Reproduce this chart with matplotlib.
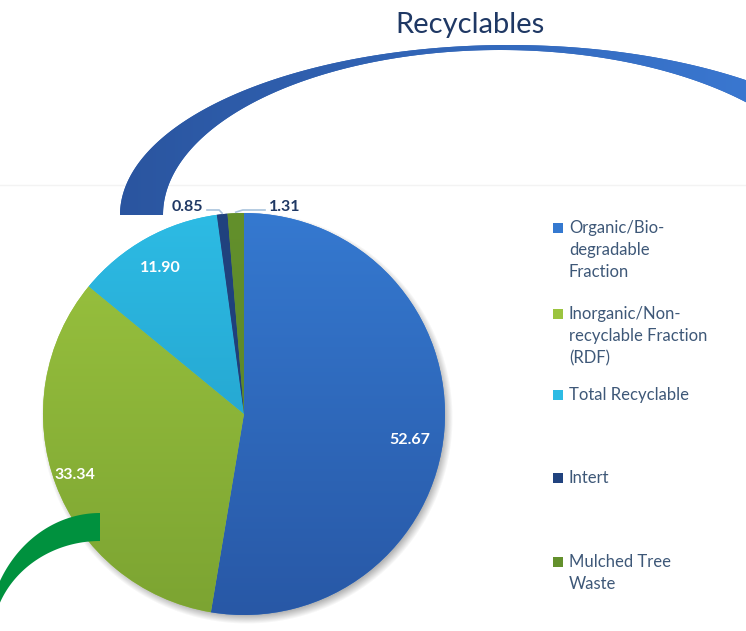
import numpy as np
import matplotlib.pyplot as plt
from matplotlib.colors import LinearSegmentedColormap
from matplotlib.patches import Polygon, Rectangle

# Waste composition (%)
labels = ["Organic/Bio-\ndegradable\nFraction",
          "Inorganic/Non-\nrecyclable Fraction\n(RDF)",
          "Total Recyclable",
          "Intert",
          "Mulched Tree\nWaste"]
values = [52.67, 33.34, 11.90, 0.85, 1.31]
top_colors = ["#3579D0", "#9BC43F", "#2DBBE4", "#21437F", "#63902C"]
bottom_colors = ["#2858A6", "#7CA432", "#1F97C2", "#1C3A72", "#55802A"]
legend_y = [228, 314, 395, 478, 562]

W, H = 746, 631
fig = plt.figure(figsize=(7.46, 6.31), dpi=100)
ax = fig.add_axes([0, 0, 1, 1])


def Y(y):
    # image-style y (from the top) -> axes y
    return H - y


font = "Lato"
navy = "#1F3864"

# faint rule across the slide
ax.plot([0, W], [Y(185), Y(185)], color="#F3F3F3", lw=1, zorder=0)

# pie
cx, cy, R = 244, Y(414), 201
wedges, _ = ax.pie(values, startangle=90, counterclock=False, center=(cx, cy),
                   radius=R, colors=top_colors, wedgeprops=dict(linewidth=0))
grad = np.linspace(0, 1, 256)[:, None]
for w, c0, c1 in zip(wedges, top_colors, bottom_colors):
    cmap = LinearSegmentedColormap.from_list("g", [c0, c1])
    im = ax.imshow(grad, extent=(cx - R, cx + R, cy - R, cy + R), cmap=cmap,
                   aspect="auto", zorder=2, interpolation="bilinear")
    im.set_clip_path(w)

# soft shadow under the pie
yy, xx = np.mgrid[0:H, 0:W] + 0.5
d = np.hypot(xx - (cx + 3), yy - (cy - 4))
shadow = np.zeros((H, W, 4))
shadow[..., :3] = 0.35
shadow[..., 3] = 0.45 * np.clip((R + 5 - d) / 9, 0, 1)
ax.imshow(shadow, extent=(0, W, 0, H), origin="lower", zorder=0.5, aspect="auto")

# value labels inside
inside = {0: (410, 440), 1: (75, 475), 2: (160, 268)}
for i, (x, y) in inside.items():
    ax.text(x, Y(y), f"{values[i]:.2f}", color="white", fontsize=11.5,
            fontweight="bold", family=font, ha="center", va="center", zorder=4)

# small slices: labels outside with leader lines
for i, (tx, side) in {3: (187, -1), 4: (285, 1)}.items():
    w = wedges[i]
    a = np.deg2rad((w.theta1 + w.theta2) / 2)
    px, py = cx + R * np.cos(a), cy + R * np.sin(a)
    ax.text(tx, Y(207), f"{values[i]:.2f}", color=navy, fontsize=11.5,
            fontweight="bold", family=font, ha="center", va="center", zorder=4)
    x0 = tx - side * 20
    x1 = px + side * 7 if side > 0 else px - 3
    ax.plot([x0, x1, px], [Y(210), Y(210), py + 1], color="#A8C2DC",
            lw=1.2, zorder=4, solid_joinstyle="round")

# big "Recyclables" arc
t = np.linspace(0, np.pi, 400)
outer = np.column_stack([509 - 389 * np.cos(t), Y(215 - 170 * np.sin(t))])
inner = np.column_stack([500 - 337 * np.cos(t), Y(215 - 165 * np.sin(t))])
arc = Polygon(np.vstack([outer, inner[::-1]]), closed=True, fc="#2F62B5",
              ec="none", zorder=1)
ax.add_patch(arc)
hgrad = np.linspace(0, 1, 256)[None, :]
im = ax.imshow(hgrad, extent=(100, W, Y(220), Y(40)),
               cmap=LinearSegmentedColormap.from_list("a", ["#2A549E", "#3A77D0"]),
               aspect="auto", zorder=1.5, interpolation="bilinear")
im.set_clip_path(arc)
ax.text(470, Y(25), "Recyclables", color=navy, fontsize=21, family=font,
        ha="center", va="center")

# green arc bottom left
s = np.linspace(0, np.pi / 2, 200)
g_out = np.column_stack([100 - 113 * np.sin(s), Y(640 - 127 * np.cos(s))])
g_in = np.column_stack([100 - 108 * np.sin(s), Y(640 - 99 * np.cos(s))])
ax.add_patch(Polygon(np.vstack([g_out, g_in[::-1]]), closed=True,
                     fc="#00913E", ec="none", zorder=3))

# legend
for lab, y, c in zip(labels, legend_y, top_colors):
    ax.add_patch(Rectangle((553, Y(y) - 5), 10, 10, fc=c, ec="none", zorder=3))
    for k, line in enumerate(lab.split("\n")):
        ax.text(569, Y(y + 22 * k), line, color="#3E5878", fontsize=12,
                family=font, ha="left", va="center")

ax.set_xlim(0, W)
ax.set_ylim(0, H)
ax.set_aspect("auto")
ax.axis("off")

fig.savefig("out.png", dpi=100)
